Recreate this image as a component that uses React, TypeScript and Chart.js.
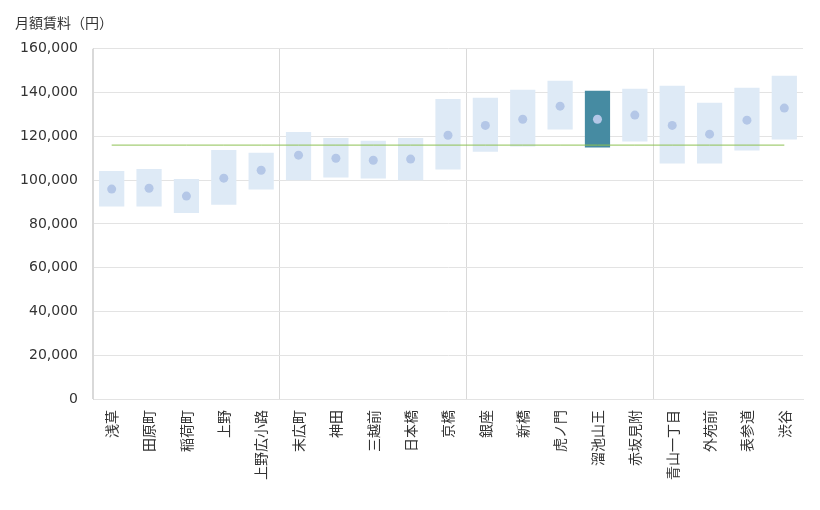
import React, { useEffect, useRef } from "react";
import { Chart, registerables } from "chart.js";

Chart.register(...registerables);

const stations = [
  "浅草", "田原町", "稲荷町", "上野", "上野広小路",
  "末広町", "神田", "三越前", "日本橋", "京橋",
  "銀座", "新橋", "虎ノ門", "溜池山王", "赤坂見附",
  "青山一丁目", "外苑前", "表参道", "渋谷",
];
const rentMin = [
  88000, 88000, 85000, 88800, 95700,
  100000, 101200, 100700, 100000, 104800,
  113000, 115400, 123100, 114900, 117600,
  107600, 107600, 113500, 118600,
];
const rentMax = [
  104200, 105100, 100500, 113800, 112500,
  122000, 119300, 118000, 119300, 137100,
  137600, 141300, 145400, 140800, 141700,
  143100, 135300, 142200, 147700,
];
const rentAvg = [
  95900, 96300, 92700, 100900, 104500,
  111400, 110000, 109100, 109600, 120500,
  125000, 127800, 133800, 127800, 129700,
  125000, 121000, 127400, 132900,
];
const overallAvg = 116000;
const highlightStation = "溜池山王";
const yTicksMax = 160000;
const yTicksStep = 20000;
const separatorAfter = [4, 9, 14];

export default function App() {
  const ref = useRef<HTMLCanvasElement | null>(null);

  useEffect(() => {
    document.body.style.margin = "0";
    const canvas = ref.current;
    if (!canvas) return;
    const sepIdx = new Set([0, ...separatorAfter.map((i) => i + 1)]);
    const chart = new Chart(canvas, {
      type: "bar",
      data: {
        labels: stations,
        datasets: [
          {
            type: "line",
            label: "平均",
            data: rentAvg,
            showLine: false,
            pointRadius: 4.5,
            pointHoverRadius: 4.5,
            pointBackgroundColor: "#b4c7e7",
            pointBorderWidth: 0,
            borderWidth: 0,
            order: 1,
          },
          {
            type: "line",
            label: "全体平均",
            data: stations.map(() => overallAvg),
            borderColor: "#8dc152",
            borderWidth: 1,
            pointRadius: 0,
            fill: false,
            order: 2,
          },
          {
            type: "bar",
            label: "範囲",
            data: stations.map((_, i) => [rentMin[i], rentMax[i]]),
            backgroundColor: stations.map((s) =>
              s === highlightStation ? "#468ba2" : "#deeaf6"
            ),
            borderWidth: 0,
            categoryPercentage: 0.9,
            barPercentage: 0.75,
            order: 3,
          } as any,
        ],
      },
      options: {
        responsive: false,
        animation: false,
        layout: { padding: { left: 15, right: 17, top: 0, bottom: 0 } },
        plugins: {
          legend: { display: false },
          tooltip: { enabled: false },
          title: {
            display: true,
            text: "月額賃料（円）",
            align: "start",
            color: "#333333",
            font: { family: '"Noto Sans CJK JP", sans-serif', size: 14, weight: "normal", lineHeight: 1.2 },
            padding: { top: 14, bottom: 18 },
          },
        },
        scales: {
          x: {
            afterFit: (scale: any) => {
              scale.height = 111;
            },
            grid: {
              offset: true,
              drawTicks: false,
              color: (ctx: any) => (sepIdx.has(ctx.index) ? "#d9d9d9" : "rgba(0,0,0,0)"),
            },
            border: { display: true, color: "#e3e3e3" },
            ticks: {
              minRotation: 90,
              maxRotation: 90,
              autoSkip: false,
              padding: 11,
              color: "#333333",
              font: { family: '"Noto Sans CJK JP", sans-serif', size: 14 },
            },
          },
          y: {
            min: 0,
            max: yTicksMax,
            afterFit: (scale: any) => {
              scale.width = 78;
            },
            grid: { color: "#e3e3e3", drawTicks: false },
            border: { display: true, color: "#d9d9d9" },
            ticks: {
              stepSize: yTicksStep,
              padding: 15,
              color: "#333333",
              font: { family: '"DejaVu Sans", sans-serif', size: 14 },
              callback: (v: any) => Number(v).toLocaleString("en-US"),
            },
          },
        },
      },
    });
    return () => chart.destroy();
  }, []);

  return (
    <div style={{ width: 820, height: 510 }}>
      <canvas ref={ref} width={820} height={510} style={{ display: "block" }} />
    </div>
  );
}
